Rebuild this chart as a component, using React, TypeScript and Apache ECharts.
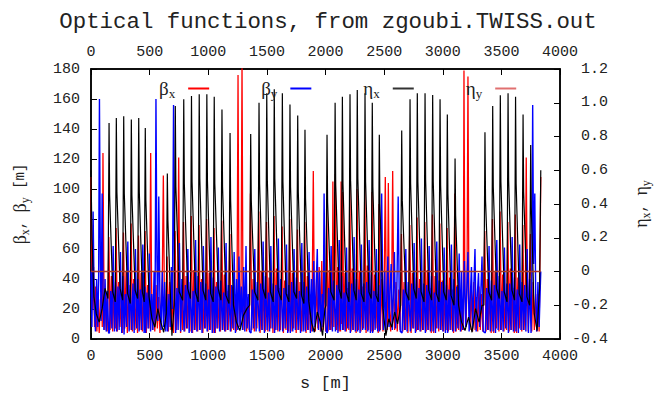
import React, { useEffect, useRef } from 'react';
import * as echarts from 'echarts';

const TITLE = 'Optical functions, from zgoubi.TWISS.out';

// beta_x [m] along s [m]
const betaX: number[][] = [
  [0,108],[6,60],[14,20],[22,48],[30,8],[40,35],[50,5],[60,28],[70,4],[80,26],[90,30],[96,8],[102,124],[110,40],[118,6],[128,30],[138,5],[146,35],
  [152,68],[163,6],[174,42],[185,5],[196,30],[207,7],
  [214,74],[225,5],[236,38],[247,8],[258,27],[269,4],
  [277,71],[288,7],[299,45],[310,4],[321,33],[332,6],
  [342,77],[353,5],[364,40],[375,6],[386,28],[397,4],
  [405,69],[416,6],[427,44],[438,5],[449,31],[459,7],
  [461,72],[472,4],[483,36],[494,7],
  [500,24],[509,124],[516,40],[524,6],[534,30],[544,5],[555,36],[566,7],[577,28],[588,4],[598,25],[608,40],[617,109],[625,35],[634,6],[642,30],
  [649,55],[660,5],[671,38],[682,6],[693,29],[704,4],
  [717,72],[728,6],[739,35],[748,121],[755,40],[764,4],[772,30],[782,6],
  [789,78],[800,5],[811,42],[822,7],[833,31],[844,5],
  [855,82],[866,4],[877,46],[888,6],[899,34],[910,5],
  [921,76],[932,6],[943,40],[954,4],[965,29],[976,7],
  [986,80],[997,5],[1008,44],[1019,6],[1030,33],[1041,4],
  [1049,74],[1060,4],[1071,38],[1082,7],[1093,27],[1104,5],
  [1115,79],[1126,6],[1137,43],[1148,5],[1159,32],[1170,6],
  [1184,70],[1195,5],[1206,35],[1217,6],[1228,30],
  [1238,5],[1245,20],[1254,176],[1262,30],[1271,8],[1280,40],[1288,185],[1296,25],[1305,6],[1316,34],[1327,5],[1338,28],[1349,6],
  [1360,97],[1371,6],[1382,40],[1393,5],[1404,30],[1415,7],
  [1431,85],[1442,4],[1453,45],[1464,6],[1475,33],[1486,5],
  [1497,78],[1508,5],[1519,41],[1530,7],[1541,28],[1552,4],
  [1561,82],[1572,6],[1583,47],[1594,5],[1605,34],[1616,6],
  [1630,75],[1641,4],[1652,39],[1663,6],[1674,30],[1685,5],
  [1695,80],[1706,5],[1717,44],[1728,7],[1739,31],[1750,4],
  [1761,73],[1772,6],[1783,38],[1794,5],[1805,27],[1815,6],
  [1823,78],[1834,4],[1845,42],[1856,6],[1867,30],[1878,5],
  [1887,35],[1896,112],[1904,30],[1913,5],[1924,40],[1935,7],[1946,48],[1957,5],[1968,52],[1979,6],[1990,45],[2001,5],
  [2011,88],[2022,5],[2033,46],[2044,6],[2053,30],[2058,6],[2063,105],[2071,8],
  [2084,110],[2093,6],[2104,48],[2115,5],[2124,30],[2128,5],[2133,105],[2139,10],
  [2146,98],[2155,6],[2166,44],[2177,5],[2188,34],[2199,6],
  [2207,104],[2218,5],[2229,47],[2240,6],[2251,32],[2261,4],
  [2269,100],[2280,6],[2291,45],[2302,5],[2313,35],[2324,7],
  [2335,103],[2346,4],[2357,49],[2368,6],[2379,31],[2389,5],
  [2397,98],[2408,5],[2419,43],[2430,7],[2441,30],[2450,4],
  [2457,90],[2468,6],[2479,40],[2490,5],
  [2500,30],[2510,108],[2518,30],[2528,6],[2536,104],[2544,20],[2556,5],[2565,40],[2573,112],[2581,35],[2590,6],[2601,38],[2612,5],[2624,33],[2636,6],
  [2648,70],[2659,5],[2670,38],[2681,6],[2692,29],[2703,4],
  [2719,76],[2730,4],[2741,44],[2752,7],[2763,32],[2774,5],
  [2781,81],[2792,6],[2803,40],[2814,5],[2825,30],[2836,6],
  [2847,78],[2858,5],[2869,46],[2880,6],[2891,34],[2902,4],
  [2912,83],[2923,4],[2934,42],[2945,7],[2956,31],[2966,5],
  [2975,77],[2986,6],[2997,39],[3008,5],[3019,28],[3029,6],
  [3037,74],[3048,5],[3059,41],[3070,6],[3081,33],[3092,4],
  [3103,97],[3114,5],[3125,36],[3136,6],[3147,30],[3157,5],
  [3167,25],[3175,6],[3181,179],[3189,30],[3198,8],[3207,35],[3215,175],[3223,28],[3232,6],[3243,33],[3254,5],[3265,38],[3276,6],[3287,28],[3298,5],[3309,35],[3320,6],[3331,30],[3342,5],
  [3358,72],[3369,5],[3380,40],[3391,6],[3402,30],[3413,4],
  [3424,80],[3435,4],[3446,45],[3457,7],[3468,33],[3479,5],
  [3489,85],[3500,6],[3511,43],[3522,5],[3533,29],[3544,6],
  [3555,78],[3566,5],[3577,47],[3588,6],[3599,34],[3610,4],
  [3619,83],[3630,4],[3641,41],[3652,7],[3663,30],[3674,5],
  [3683,76],[3694,6],[3705,38],[3712,121],[3720,40],[3729,5],
  [3748,70],[3759,5],[3770,38],[3781,6],[3792,30],[3803,5],
  [3814,28],[3822,5],[3830,60],[3836,108],
];

// beta_y [m] along s [m]
const betaY: number[][] = [
  [0,45],[8,8],[18,85],[28,20],[38,5],[48,40],[58,8],[65,40],[72,160],[80,50],[86,12],[95,97],[103,30],[110,6],[120,40],[130,5],[140,32],[150,4],
  [157,4],[168,32],[178,7],[189,62],[200,5],[210,38],
  [219,5],[230,35],[240,6],[251,58],[262,4],[272,42],
  [282,3],[293,30],[303,8],[314,65],[325,5],[335,36],
  [347,6],[358,37],[368,4],[379,60],[390,7],[400,40],
  [410,5],[421,33],[431,6],[442,63],[453,4],[461,35],
  [466,4],[477,31],[487,7],[498,57],
  [508,5],[518,30],[528,6],[538,45],[546,10],[554,160],[562,55],[570,12],[578,95],[588,25],[598,6],[608,45],[618,8],[628,38],[638,5],[646,30],
  [654,5],[665,30],[675,8],[686,48],[694,20],[704,156],[711,50],
  [722,4],[733,34],[743,6],[754,64],[765,5],[775,40],
  [794,5],[805,36],[815,7],[826,60],[837,4],[847,38],
  [860,4],[871,32],[881,6],[892,66],[903,5],[913,42],
  [926,6],[937,38],[947,4],[958,62],[969,7],[979,37],
  [991,5],[1002,33],[1012,6],[1023,68],[1034,4],[1044,41],
  [1054,4],[1065,35],[1075,7],[1086,61],[1097,5],[1107,39],
  [1120,6],[1131,31],[1141,5],[1152,64],[1163,6],[1173,36],
  [1189,5],[1200,36],[1210,7],[1221,58],[1232,4],[1242,40],
  [1252,6],[1262,55],[1272,8],[1282,35],[1292,6],[1302,48],[1312,5],[1322,62],[1332,7],[1342,30],[1352,5],
  [1365,4],[1376,33],[1386,7],[1397,60],[1408,5],[1418,38],
  [1436,5],[1447,37],[1457,6],[1468,65],[1479,4],[1489,42],
  [1502,6],[1513,31],[1523,5],[1534,62],[1545,7],[1555,37],
  [1566,4],[1577,36],[1587,6],[1598,67],[1609,5],[1619,40],
  [1635,5],[1646,34],[1656,7],[1667,63],[1678,4],[1688,36],
  [1700,4],[1711,38],[1721,5],[1732,60],[1743,6],[1753,41],
  [1766,6],[1777,32],[1787,4],[1798,64],[1809,5],[1819,38],
  [1828,5],[1839,35],[1849,6],[1860,58],[1871,4],[1881,40],
  [1891,5],[1900,52],[1910,8],[1920,35],[1930,60],[1940,6],[1950,45],[1962,5],[1972,30],[1980,8],[1988,97],[1996,30],[2006,5],
  [2016,4],[2027,34],[2037,6],[2048,62],[2059,5],[2069,39],
  [2085,5],[2096,36],[2106,4],[2117,66],[2128,6],[2138,42],
  [2147,6],[2158,31],[2168,5],[2179,61],[2190,7],[2200,38],
  [2212,4],[2223,37],[2233,6],[2244,68],[2255,5],[2265,40],
  [2274,5],[2285,33],[2295,4],[2306,63],[2317,6],[2327,37],
  [2340,6],[2351,38],[2361,5],[2372,66],[2383,4],[2393,43],
  [2402,4],[2413,32],[2423,6],[2434,60],[2445,5],[2455,36],
  [2462,5],[2472,35],[2479,97],[2487,40],[2494,6],
  [2505,45],[2514,5],[2524,30],[2532,55],[2542,8],[2552,35],[2560,50],[2570,6],[2580,32],[2588,58],[2598,7],[2608,30],[2620,95],[2628,35],[2638,5],
  [2653,4],[2664,33],[2674,6],[2685,60],[2696,5],[2706,38],
  [2724,5],[2735,37],[2745,7],[2756,64],[2767,4],[2777,41],
  [2786,6],[2797,34],[2807,5],[2818,67],[2829,6],[2839,37],
  [2852,4],[2863,36],[2873,6],[2884,62],[2895,5],[2905,42],
  [2917,5],[2928,31],[2938,4],[2949,65],[2960,7],[2970,39],
  [2980,6],[2991,38],[3001,5],[3012,61],[3023,4],[3033,36],
  [3042,4],[3053,33],[3063,6],[3074,63],[3085,5],[3095,40],
  [3108,5],[3119,35],[3129,7],[3140,57],[3151,5],
  [3160,45],[3170,6],[3178,30],[3185,52],[3195,8],[3205,33],[3215,58],[3225,5],[3235,28],[3245,48],[3255,7],[3265,35],[3275,60],[3285,5],[3295,30],[3305,44],[3315,8],[3325,32],[3335,55],[3345,5],
  [3363,4],[3374,34],[3384,6],[3395,62],[3406,5],[3416,39],
  [3429,5],[3440,36],[3450,4],[3461,66],[3472,6],[3482,42],
  [3494,6],[3505,32],[3515,5],[3526,61],[3537,7],[3547,37],
  [3560,4],[3571,37],[3581,6],[3592,68],[3603,5],[3613,41],
  [3624,5],[3635,33],[3645,4],[3656,63],[3667,6],[3677,38],
  [3688,6],[3699,36],[3709,5],[3720,60],[3731,4],[3741,40],
  [3753,4],[3760,40],[3767,156],[3775,50],[3785,97],[3793,25],[3802,5],[3812,38],[3822,8],[3830,30],[3836,45],
];

// eta_x [m] along s [m]
const etaX: number[][] = [
  [0,0.6],[8,0.2],[25,-0.15],[45,-0.25],[70,-0.3],[95,-0.22],[120,-0.1],[145,-0.16],
  [154,0.88],[159,0.45],[185,-0.12],[207,-0.18],[216,0.91],[221,0.47],[248,-0.1],[270,-0.17],[279,0.92],[284,0.46],[312,-0.13],[335,-0.19],[344,0.9],[349,0.45],[376,-0.11],[398,-0.16],[407,0.91],[412,0.47],[438,-0.12],[454,-0.18],[463,0.85],[468,0.42],[495,-0.15],
  [520,-0.28],[545,-0.33],[570,-0.22],[595,-0.3],[620,-0.36],[642,-0.25],
  [651,0.58],[656,0.3],[675,-0.1],[690,-0.38],[710,-0.2],[719,0.98],[724,0.5],[752,-0.12],[782,-0.17],[791,1.02],[796,0.52],[824,-0.1],[848,-0.16],[857,1.04],[862,0.53],[890,-0.12],[914,-0.18],[923,1.05],[928,0.55],[955,-0.11],[979,-0.17],[988,1.05],[993,0.54],[1020,-0.13],[1042,-0.18],[1051,1.035],[1056,0.52],[1085,-0.1],[1108,-0.17],[1117,0.96],[1122,0.5],[1150,-0.14],[1177,-0.19],[1186,0.82],[1191,0.42],[1215,-0.2],
  [1240,-0.3],[1270,-0.35],[1300,-0.26],[1330,-0.22],[1353,-0.2],
  [1362,0.815],[1367,0.42],[1395,-0.12],[1424,-0.17],[1433,1.0],[1438,0.52],[1465,-0.1],[1490,-0.16],[1499,1.056],[1504,0.54],[1530,-0.12],[1554,-0.18],[1563,1.08],[1568,0.55],[1596,-0.11],[1623,-0.17],[1632,1.056],[1637,0.53],[1664,-0.13],[1688,-0.18],[1697,0.99],[1702,0.5],[1730,-0.12],[1754,-0.16],[1763,0.925],[1768,0.47],[1795,-0.14],[1816,-0.19],[1825,0.84],[1830,0.43],[1858,-0.18],
  [1880,-0.3],[1905,-0.36],[1930,-0.24],[1955,-0.3],[1975,-0.38],[1995,-0.22],[2004,-0.2],
  [2013,0.81],[2018,0.41],[2045,-0.12],[2073,-0.17],[2082,1.0],[2087,0.51],[2115,-0.1],[2135,-0.16],[2144,1.035],[2149,0.52],[2176,-0.12],[2200,-0.18],[2209,1.05],[2214,0.54],[2242,-0.11],[2262,-0.17],[2271,1.075],[2276,0.55],[2305,-0.13],[2328,-0.18],[2337,1.056],[2342,0.53],[2370,-0.12],[2390,-0.16],[2399,1.0],[2404,0.5],[2430,-0.14],[2450,-0.18],[2459,0.81],[2464,0.4],[2490,-0.22],
  [2515,-0.38],[2540,-0.28],[2565,-0.33],[2590,-0.24],[2615,-0.31],[2641,-0.2],
  [2650,0.835],[2655,0.42],[2684,-0.12],[2712,-0.17],[2721,1.02],[2726,0.52],[2752,-0.1],[2774,-0.16],[2783,1.056],[2788,0.53],[2815,-0.12],[2840,-0.18],[2849,1.056],[2854,0.54],[2880,-0.11],[2905,-0.17],[2914,1.046],[2919,0.53],[2945,-0.13],[2968,-0.18],[2977,1.02],[2982,0.51],[3008,-0.12],[3030,-0.17],[3039,0.93],[3044,0.46],[3070,-0.14],[3096,-0.2],[3105,0.67],[3110,0.33],[3135,-0.2],
  [3160,-0.3],[3190,-0.35],[3220,-0.27],[3250,-0.36],[3280,-0.22],[3310,-0.3],[3335,-0.2],[3351,-0.2],
  [3360,0.825],[3365,0.42],[3392,-0.12],[3417,-0.17],[3426,0.98],[3431,0.5],[3458,-0.1],[3482,-0.16],[3491,1.045],[3496,0.53],[3524,-0.12],[3548,-0.18],[3557,1.056],[3562,0.54],[3590,-0.11],[3612,-0.17],[3621,1.035],[3626,0.52],[3652,-0.13],[3676,-0.18],[3685,0.93],[3690,0.47],[3718,-0.15],[3741,-0.2],[3750,0.75],[3755,0.38],[3780,-0.25],[3805,-0.35],[3826,-0.1],[3836,0.6],
];

// eta_y [m] along s [m]
const etaY: number[][] = [[0, 0], [3836, 0]];

const seriesNames = ['βx', 'βy', 'ηx', 'ηy'];
const seriesColors = ['#ff0000', '#0000ff', '#000000', '#a83a28'];
const seriesWidths = [1.3, 1.4, 1.2, 1.4];
const legendColors = ['#ff0000', '#0000ff', '#333333', '#e07070'];
const legendRich: Record<string, string> = {
  'βx': '{g|β}{s|x}',
  'βy': '{g|β}{s|y}',
  'ηx': '{g|η}{s|x}',
  'ηy': '{g|η}{s|y}',
};

const MONO = '"Liberation Mono", "DejaVu Sans Mono", monospace';
const SERIF = '"Liberation Serif", "DejaVu Serif", serif';
const TXT = '#222';

export default function App() {
  const ref = useRef<HTMLDivElement>(null);
  useEffect(() => {
    if (!ref.current) return;
    const chart = echarts.init(ref.current, undefined, { renderer: 'svg' });
    const greekRich = {
      g: { fontFamily: SERIF, fontSize: 18, color: TXT, lineHeight: 22 },
      s: { fontFamily: SERIF, fontSize: 12, color: TXT, verticalAlign: 'bottom', lineHeight: 14 },
      m: { fontFamily: MONO, fontSize: 14, color: TXT, lineHeight: 20 },
    };
    const axisCommon = {
      type: 'value',
      splitLine: { show: false },
      axisLine: { show: true, onZero: false, lineStyle: { color: '#000', width: 1.5 } },
      axisTick: { show: true, inside: true, length: 6, lineStyle: { color: '#000', width: 1 } },
    };
    const labelStyle = { fontFamily: MONO, fontSize: 15, color: TXT };
    const datasets = [betaX, betaY, etaX, etaY];
    const option: any = {
      animation: false,
      backgroundColor: '#ffffff',
      title: {
        text: TITLE,
        left: 'center',
        top: 6,
        textStyle: { fontFamily: MONO, fontSize: 22.4, fontWeight: 'normal', color: TXT },
      },
      grid: {
        left: 91, right: 96, top: 69, bottom: 55,
        outerBoundsMode: 'none',
        containLabel: false,
        show: true, borderColor: '#000', borderWidth: 1.5, backgroundColor: 'transparent',
      },
      legend: {
        left: 154,
        top: 74,
        itemGap: 52,
        align: 'right',
        icon: 'rect',
        itemWidth: 21,
        itemHeight: 2,
        data: seriesNames.map((n, i) => ({ name: n, itemStyle: { color: legendColors[i] } })),
        formatter: (name: string) => legendRich[name] || name,
        textStyle: {
          rich: {
            g: { fontFamily: SERIF, fontSize: 19, color: TXT, lineHeight: 22 },
            s: { fontFamily: SERIF, fontSize: 13, color: TXT, verticalAlign: 'bottom', lineHeight: 14, padding: [0, 8, 0, 0] },
          },
        },
      },
      xAxis: [
        {
          ...axisCommon,
          position: 'bottom',
          min: 0, max: 4000, interval: 500,
          name: 's [m]',
          nameLocation: 'middle',
          nameGap: 36,
          nameTextStyle: { fontFamily: MONO, fontSize: 17, color: TXT },
          axisLabel: { ...labelStyle, margin: 10, formatter: (v: number) => String(v) },
        },
        {
          ...axisCommon,
          position: 'top',
          min: 0, max: 4000, interval: 500,
          axisLabel: { ...labelStyle, margin: 9, formatter: (v: number) => String(v) },
        },
      ],
      yAxis: [
        {
          ...axisCommon,
          position: 'left',
          min: 0, max: 180, interval: 20,
          name: '{g|β}{s|x}{m|, }{g|β}{s|y}{m| [m]}',
          nameLocation: 'middle',
          nameRotate: 90,
          nameGap: 60,
          nameTextStyle: { rich: greekRich },
          axisLabel: { ...labelStyle, margin: 11, formatter: (v: number) => String(v) },
        },
        {
          ...axisCommon,
          position: 'right',
          min: -0.4, max: 1.2, interval: 0.2,
          name: '{g|η}{s|x}{m|, }{g|η}{s|y}',
          nameLocation: 'middle',
          nameRotate: 90,
          nameGap: 70,
          nameTextStyle: { rich: greekRich },
          axisLabel: {
            ...labelStyle,
            margin: 12,
            formatter: (v: number) => {
              const r = Math.round(v * 10) / 10;
              const t = r === 0 ? '0' : r.toFixed(1);
              return r < 0 ? '{n|' + t + '}' : '{p|' + t + '}';
            },
            rich: {
              n: { fontFamily: MONO, fontSize: 15, color: TXT },
              p: { fontFamily: MONO, fontSize: 15, color: TXT, padding: [0, 0, 0, 9] },
            },
          },
        },
      ],
      series: datasets.map((d, i) => ({
        name: seriesNames[i],
        type: 'line',
        xAxisIndex: 0,
        yAxisIndex: i < 2 ? 0 : 1,
        data: d,
        showSymbol: false,
        symbol: 'none',
        clip: true,
        lineStyle: { color: seriesColors[i], width: seriesWidths[i] },
        itemStyle: { color: seriesColors[i] },
        emphasis: { disabled: true },
      })),
    };
    chart.setOption(option);
    return () => chart.dispose();
  }, []);
  return (
    <div
      ref={ref}
      style={{ position: 'absolute', left: 0, top: 0, width: 656, height: 394, background: '#fff' }}
    />
  );
}
